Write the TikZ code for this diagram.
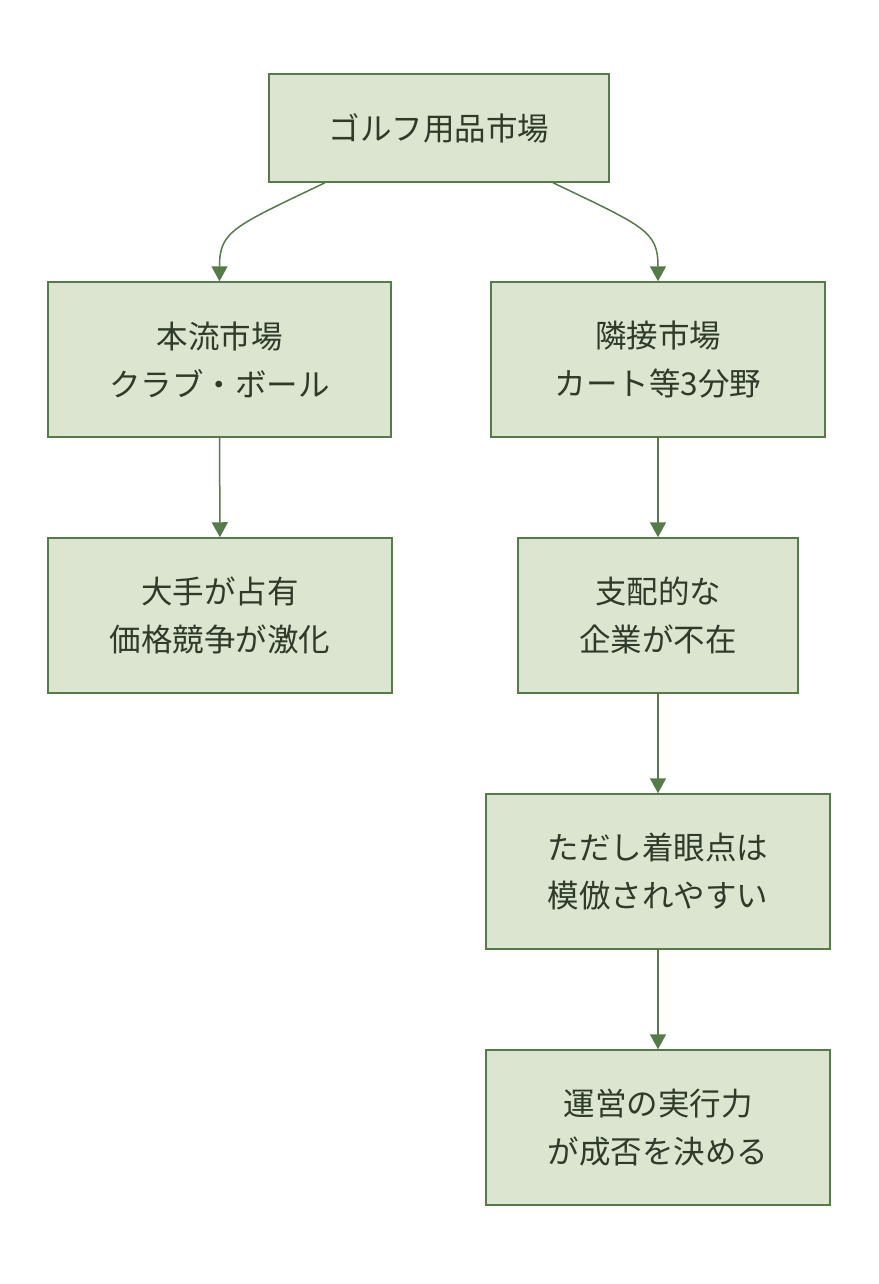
\documentclass[tikz,border=0pt]{standalone}
\usepackage{fontspec}
\newfontfamily\jp{Noto Sans CJK JP}
\usetikzlibrary{arrows.meta,positioning}
\definecolor{boxfill}{HTML}{DCE5CF}
\definecolor{boxline}{HTML}{567A4A}
\definecolor{boxtext}{HTML}{2F3A2A}
\begin{document}
\begin{tikzpicture}[x=1pt, y=-1pt,
    box/.style={draw=boxline, fill=boxfill, line width=1.5pt, text=boxtext,
        align=center, inner sep=0pt, font=\jp\fontsize{31.5}{48}\selectfont},
    link/.style={draw=boxline, line width=1.5pt,
        -{Triangle[width=16pt, length=15pt]}}]
    \useasboundingbox (0,0) rectangle (878,1284);

    % 上段
    \node[box, minimum width=340pt, minimum height=108pt] (market) at (439,128) {ゴルフ用品市場};

    % 左の列
    \node[box, minimum width=343pt, minimum height=155pt] (mainmkt) at (219.5,359.5) {本流市場\\クラブ・ボール};
    \node[box, minimum width=344pt, minimum height=155pt] (majors) at (220,615.5) {大手が占有\\価格競争が激化};

    % 右の列
    \node[box, minimum width=334pt, minimum height=155pt] (nextmkt) at (658,359.5) {隣接市場\\カート等3分野};
    \node[box, minimum width=280pt, minimum height=155pt] (noleader) at (658,615.5) {支配的な\\企業が不在};
    \node[box, minimum width=344pt, minimum height=155pt] (copied) at (658,871.5) {ただし着眼点は\\模倣されやすい};
    \node[box, minimum width=344pt, minimum height=155pt] (execution) at (658,1127.5) {運営の実行力\\が成否を決める};

    % 矢印
    \draw[link] ([xshift=-114pt]market.south) .. controls +(-92,44) and +(0,-50) .. (mainmkt.north);
    \draw[link] ([xshift=114pt]market.south) .. controls +(92,44) and +(0,-50) .. (nextmkt.north);
    \draw[link] (mainmkt) -- (majors);
    \draw[link] (nextmkt) -- (noleader);
    \draw[link] (noleader) -- (copied);
    \draw[link] (copied) -- (execution);
\end{tikzpicture}
\end{document}
